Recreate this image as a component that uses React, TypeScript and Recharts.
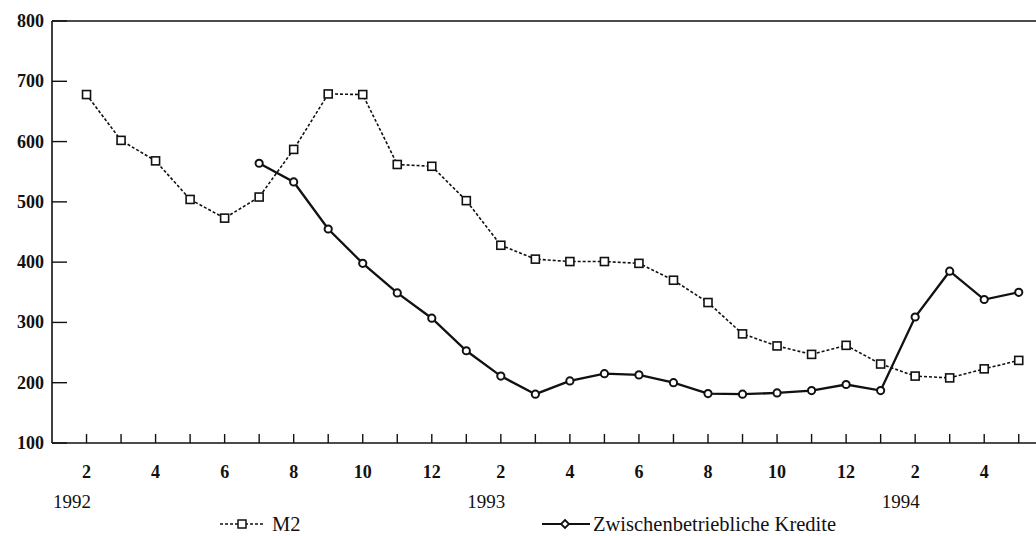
import React from "react";
import { LineChart, Line, XAxis, YAxis, ReferenceLine } from "recharts";

// months from Feb 1992 to May 1994
const months = [
  "1992-02", "1992-03", "1992-04", "1992-05", "1992-06", "1992-07", "1992-08",
  "1992-09", "1992-10", "1992-11", "1992-12", "1993-01", "1993-02", "1993-03",
  "1993-04", "1993-05", "1993-06", "1993-07", "1993-08", "1993-09", "1993-10",
  "1993-11", "1993-12", "1994-01", "1994-02", "1994-03", "1994-04", "1994-05",
];

const m2 = [
  678, 602, 568, 504, 473, 508, 587, 679, 678, 562, 559,
  502, 428, 405, 401, 401, 398, 370, 333, 281, 261, 247, 262,
  231, 211, 208, 223, 237,
];

const kredite: (number | null)[] = [
  null, null, null, null, null, 564, 533, 455, 398, 349, 307,
  253, 211, 181, 203, 215, 213, 200, 182, 181, 183, 187, 197,
  187, 309, 385, 338, 350,
];

const yTicks = [100, 200, 300, 400, 500, 600, 700, 800];
const years = ["1992", "1993", "1994"];

const FONT = "'Liberation Serif', 'Times New Roman', serif";
const INK = "#111";

// x position: month count since Jan 1992 (Feb 1992 = 1)
const data = months.map((m, i) => ({
  idx: i + 1,
  label: m,
  m2: m2[i],
  kredite: kredite[i],
}));

const monthTicks = data.map((d) => d.idx);
const yearTicks = years.map((_, i) => i * 12);

const MonthTick = (props: any) => {
  const { x, y, payload } = props;
  const month = (payload.value % 12) + 1;
  return (
    <g>
      <line x1={x} y1={y} x2={x} y2={y - 9} stroke={INK} strokeWidth={1.4} />
      {month % 2 === 0 && (
        <text
          x={x}
          y={y + 29}
          textAnchor="middle"
          dominantBaseline="central"
          fontFamily={FONT}
          fontWeight="bold"
          fontSize={18}
          fill={INK}
        >
          {month}
        </text>
      )}
    </g>
  );
};

const YearTick = (props: any) => {
  const { x, y, payload } = props;
  return (
    <text
      x={x + 1}
      y={y + 28}
      textAnchor="start"
      dominantBaseline="central"
      fontFamily={FONT}
      fontSize={19}
      fill={INK}
    >
      {years[payload.value / 12]}
    </text>
  );
};

const ValueTick = (props: any) => {
  const { x, y, payload } = props;
  return (
    <g>
      <line x1={x} y1={y} x2={x + 15} y2={y} stroke={INK} strokeWidth={1.4} />
      <text
        x={x - 8}
        y={y}
        textAnchor="end"
        dominantBaseline="central"
        fontFamily={FONT}
        fontWeight="bold"
        fontSize={18}
        fill={INK}
      >
        {payload.value}
      </text>
    </g>
  );
};

const SquareDot = (props: any) => {
  const { cx, cy, value } = props;
  if (value == null) return null;
  return (
    <rect
      key={`sq-${cx}`}
      x={cx - 4}
      y={cy - 4}
      width={8}
      height={8}
      fill="#fff"
      stroke={INK}
      strokeWidth={1.6}
    />
  );
};

const RoundDot = (props: any) => {
  const { cx, cy, value } = props;
  if (value == null) return null;
  return (
    <circle key={`rd-${cx}`} cx={cx} cy={cy} r={3.6} fill="#fff" stroke={INK} strokeWidth={2} />
  );
};

export default function App() {
  return (
    <div
      style={{
        position: "absolute",
        left: 0,
        top: 0,
        width: 1036,
        height: 536,
        background: "#fff",
        fontFamily: FONT,
      }}
    >
      <LineChart
        width={1036}
        height={536}
        data={data}
        margin={{ top: 21, right: 0, left: 0, bottom: 33 }}
      >
        <XAxis
          dataKey="idx"
          type="number"
          domain={[0, 28.5]}
          ticks={monthTicks}
          interval={0}
          height={30}
          tickSize={0}
          tickMargin={0}
          tickLine={false}
          axisLine={{ stroke: INK, strokeWidth: 1.6 }}
          tick={<MonthTick />}
        />
        <XAxis
          xAxisId="year"
          dataKey="idx"
          type="number"
          domain={[0, 28.5]}
          ticks={yearTicks}
          interval={0}
          height={30}
          tickSize={0}
          tickMargin={0}
          tickLine={false}
          axisLine={false}
          tick={<YearTick />}
        />
        <YAxis
          type="number"
          domain={[100, 800]}
          ticks={yTicks}
          interval={0}
          width={52}
          tickSize={0}
          tickMargin={0}
          tickLine={false}
          axisLine={{ stroke: INK, strokeWidth: 1.6 }}
          tick={<ValueTick />}
        />
        <ReferenceLine y={800} stroke={INK} strokeWidth={1.6} />
        <Line
          dataKey="m2"
          name="M2"
          stroke={INK}
          strokeWidth={1.6}
          strokeDasharray="3 2"
          dot={<SquareDot />}
          activeDot={false}
          isAnimationActive={false}
        />
        <Line
          dataKey="kredite"
          name="Zwischenbetriebliche Kredite"
          stroke={INK}
          strokeWidth={2.3}
          dot={<RoundDot />}
          activeDot={false}
          connectNulls={false}
          isAnimationActive={false}
        />
      </LineChart>

      {/* legend drawn below the axis labels */}
      <div style={{ position: "absolute", left: 219, top: 512, display: "flex", alignItems: "center" }}>
        <svg width={46} height={24}>
          <line x1={1} y1={12} x2={44} y2={12} stroke={INK} strokeWidth={1.5} strokeDasharray="3 2" />
          <rect x={19} y={8} width={8} height={8} fill="#fff" stroke={INK} strokeWidth={1.5} />
        </svg>
        <span style={{ fontSize: 20.5, color: INK, marginLeft: 7, lineHeight: "24px" }}>M2</span>
      </div>
      <div style={{ position: "absolute", left: 541, top: 512, display: "flex", alignItems: "center" }}>
        <svg width={50} height={24}>
          <line x1={1} y1={12} x2={49} y2={12} stroke={INK} strokeWidth={2.2} />
          <polygon points="24,8 28,12 24,16 20,12" fill="#fff" stroke={INK} strokeWidth={1.8} />
        </svg>
        <span style={{ fontSize: 20.5, color: INK, marginLeft: 2, lineHeight: "24px" }}>
          Zwischenbetriebliche Kredite
        </span>
      </div>
    </div>
  );
}
